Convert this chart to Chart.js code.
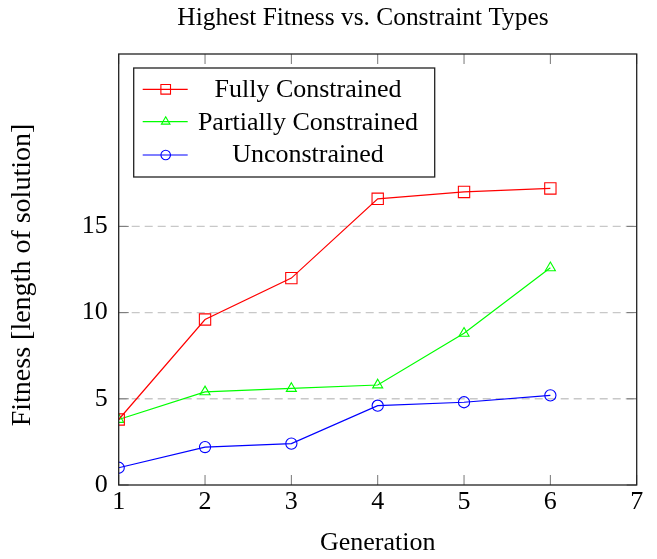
<!DOCTYPE html>
<html><head><meta charset="utf-8">
<style>html,body{margin:0;padding:0;background:#fff}#wrap{width:657px;height:559px;position:relative}</style>
<script src="https://cdn.jsdelivr.net/npm/chart.js@4.4.1/dist/chart.umd.min.js"></script>
</head><body><div id="wrap"><canvas id="c" width="657" height="559"></canvas></div>
<script>
const generations = [1, 2, 3, 4, 5, 6];
const fullyConstrained = [3.8, 9.6, 12.0, 16.6, 17.0, 17.2];
const partiallyConstrained = [3.8, 5.4, 5.6, 5.8, 8.8, 12.6];
const unconstrained = [1.0, 2.2, 2.4, 4.6, 4.8, 5.2];
const seriesNames = ['Fully Constrained', 'Partially Constrained', 'Unconstrained'];
const yTickValues = [0, 5, 10, 15];
const xTickValues = [1, 2, 3, 4, 5, 6, 7];
const gridValues = [5, 10, 15];
const titleText = 'Highest Fitness vs. Constraint Types';
const xTitle = 'Generation';
const yTitle = 'Fitness [length of solution]';

const FONT = "'Liberation Serif', 'Times New Roman', serif";
Chart.defaults.font.family = FONT;
Chart.defaults.color = '#000';

const toPts = arr => arr.map((v, i) => ({x: generations[i], y: v}));

const styles = [
  {color: '#ff0000', pointStyle: 'rect', radius: 8},
  {color: '#00ff00', pointStyle: 'triangle', radius: 5.8},
  {color: '#0000ff', pointStyle: 'circle', radius: 5.6}
];
const seriesValues = [fullyConstrained, partiallyConstrained, unconstrained];

const datasets = seriesValues.map((vals, i) => ({
  label: seriesNames[i],
  data: toPts(vals),
  borderColor: styles[i].color,
  backgroundColor: 'rgba(0,0,0,0)',
  pointBackgroundColor: 'rgba(0,0,0,0)',
  pointBorderColor: styles[i].color,
  pointStyle: styles[i].pointStyle,
  pointRadius: styles[i].radius,
  pointBorderWidth: 1.1,
  borderWidth: 1.2,
  tension: 0,
  fill: false
}));

const decor = {
  id: 'decor',
  beforeDatasetsDraw(chart) {
    const {ctx, chartArea: ca, scales: {y}} = chart;
    ctx.save();
    ctx.strokeStyle = '#c8c8c8';
    ctx.lineWidth = 1.4;
    ctx.setLineDash([8, 5]);
    gridValues.forEach(v => {
      const py = y.getPixelForValue(v);
      ctx.beginPath(); ctx.moveTo(ca.left, py); ctx.lineTo(ca.right, py); ctx.stroke();
    });
    ctx.restore();
  },
  afterDatasetsDraw(chart) {
    const {ctx, chartArea: ca, scales: {x, y}} = chart;
    ctx.save();
    // ticks
    ctx.strokeStyle = '#777';
    ctx.lineWidth = 1;
    const tl = 10;
    xTickValues.forEach(v => {
      const px = x.getPixelForValue(v);
      ctx.beginPath();
      ctx.moveTo(px, ca.bottom); ctx.lineTo(px, ca.bottom - tl);
      ctx.moveTo(px, ca.top); ctx.lineTo(px, ca.top + tl);
      ctx.stroke();
    });
    yTickValues.forEach(v => {
      const py = y.getPixelForValue(v);
      ctx.beginPath();
      ctx.moveTo(ca.left, py); ctx.lineTo(ca.left + tl, py);
      ctx.moveTo(ca.right, py); ctx.lineTo(ca.right - tl, py);
      ctx.stroke();
    });
    // frame
    ctx.strokeStyle = '#222';
    ctx.lineWidth = 1.3;
    ctx.strokeRect(ca.left, ca.top, ca.right - ca.left, ca.bottom - ca.top);
    // title
    ctx.fillStyle = '#000';
    ctx.font = '25.4px ' + FONT;
    ctx.textAlign = 'center';
    ctx.textBaseline = 'alphabetic';
    ctx.fillText(titleText, 363, 25);
    // y-axis title
    ctx.save();
    ctx.translate(30, 275);
    ctx.rotate(-Math.PI / 2);
    ctx.font = '28px ' + FONT;
    ctx.fillText(yTitle, 0, 0);
    ctx.restore();
    // legend
    const lx = ca.left + 15, ly = ca.top + 14, lw = 301, lh = 109;
    ctx.fillStyle = '#fff';
    ctx.fillRect(lx, ly, lw, lh);
    ctx.strokeStyle = '#222';
    ctx.lineWidth = 1.3;
    ctx.strokeRect(lx, ly, lw, lh);
    const rowY = [89.3, 121.7, 155];
    const textBase = [97, 129.5, 162];
    chart.data.datasets.forEach((ds, i) => {
      const cy = rowY[i];
      ctx.strokeStyle = ds.borderColor;
      ctx.lineWidth = 1.2;
      ctx.beginPath(); ctx.moveTo(lx + 9, cy); ctx.lineTo(lx + 54, cy); ctx.stroke();
      ctx.fillStyle = 'rgba(0,0,0,0)';
      ctx.lineWidth = 1.1;
      Chart.helpers.drawPoint(ctx, {pointStyle: ds.pointStyle, radius: ds.pointRadius * 0.85, rotation: 0, borderWidth: 1.1}, lx + 32, cy);
      ctx.fillStyle = '#000';
      ctx.font = '26px ' + FONT;
      ctx.textAlign = 'center';
      ctx.textBaseline = 'alphabetic';
      ctx.fillText(ds.label, 308, textBase[i]);
    });
    ctx.restore();
  }
};

new Chart(document.getElementById('c'), {
  type: 'line',
  data: {datasets},
  options: {
    responsive: false,
    devicePixelRatio: 1,
    animation: false,
    layout: {padding: {top: 54, right: 20.3, bottom: 0, left: 0}},
    plugins: {legend: {display: false}, title: {display: false}, tooltip: {enabled: false}},
    scales: {
      x: {
        type: 'linear', min: 1, max: 7,
        afterBuildTicks: s => { s.ticks = xTickValues.map(v => ({value: v})); },
        afterFit: s => { s.height = 74; },
        grid: {display: false, drawTicks: false},
        border: {display: false},
        ticks: {font: {size: 26}, padding: 2, color: '#000', maxRotation: 0},
        title: {display: true, text: xTitle, font: {size: 26}, padding: {top: 0, bottom: 0}, color: '#000'}
      },
      y: {
        type: 'linear', min: 0, max: 25,
        afterBuildTicks: s => { s.ticks = yTickValues.map(v => ({value: v})); },
        afterFit: s => { s.width = 118.7; },
        grid: {display: false, drawTicks: false},
        border: {display: false},
        ticks: {font: {size: 26}, padding: 11, color: '#000'},
        title: {display: false}
      }
    }
  },
  plugins: [decor]
});
</script></body></html>
